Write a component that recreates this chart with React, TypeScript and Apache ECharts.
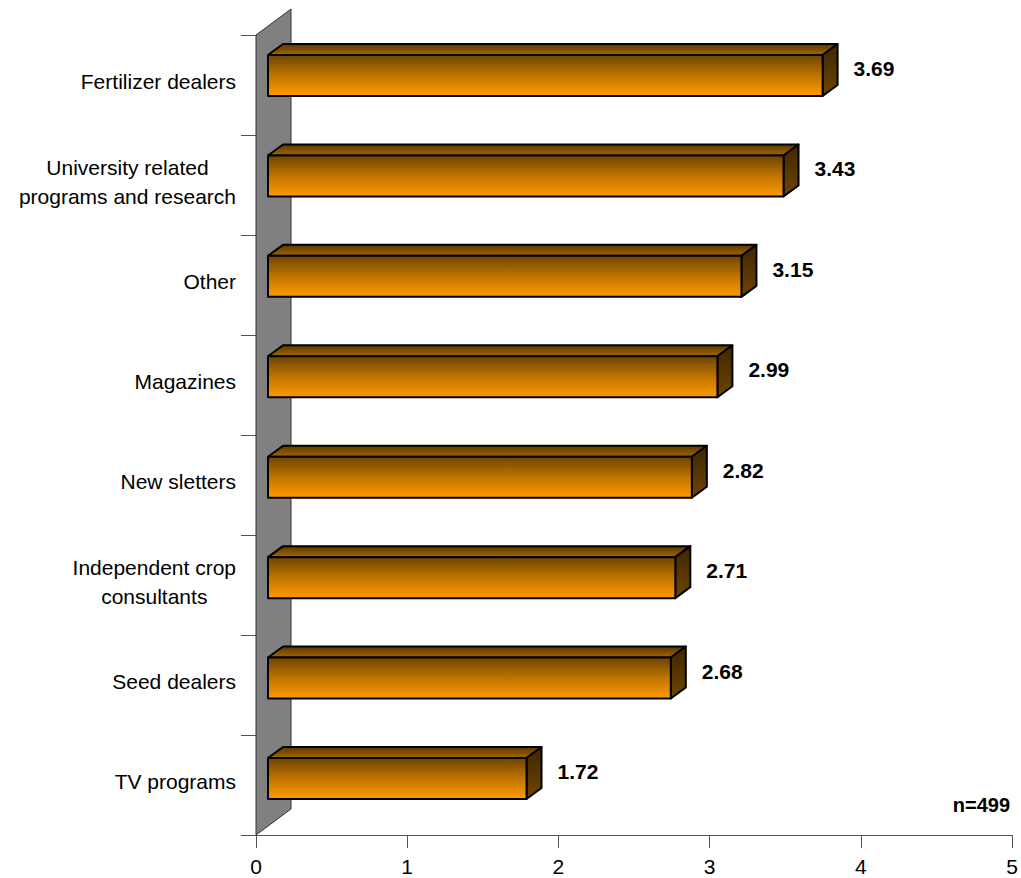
import React, { useEffect, useRef } from "react";
import * as echarts from "echarts";

const categories: string[] = [
  "Fertilizer dealers",
  "University related\nprograms and research",
  "Other",
  "Magazines",
  "New sletters",
  "Independent crop\nconsultants",
  "Seed dealers",
  "TV programs",
];
const values: number[] = [3.69, 3.43, 3.15, 2.99, 2.82, 2.71, 2.68, 1.72];
const xTicks: number[] = [0, 1, 2, 3, 4, 5];
const noteText = "n=499";

const FONT = "Arial, 'Liberation Sans', Helvetica, sans-serif";

export default function App() {
  const ref = useRef<HTMLDivElement>(null);

  useEffect(() => {
    if (!ref.current) return;
    const chart = echarts.init(ref.current, undefined, { renderer: "svg" });

    const DX = 15;
    const DY = -11;
    const BAR_H = 41;

    const frontGrad = new echarts.graphic.LinearGradient(0, 0, 0, 1, [
      { offset: 0, color: "#6e4500" },
      { offset: 0.55, color: "#c67800" },
      { offset: 1, color: "#ff9a00" },
    ]);
    const topGrad = new echarts.graphic.LinearGradient(0, 0, 0, 1, [
      { offset: 0, color: "#5a3800" },
      { offset: 1, color: "#a56600" },
    ]);
    const sideGrad = new echarts.graphic.LinearGradient(0, 0, 0, 1, [
      { offset: 0, color: "#3e2700" },
      { offset: 1, color: "#6e4500" },
    ]);

    const option: any = {
      animation: false,
      backgroundColor: "#ffffff",
      grid: [
        { left: 256, right: 9, top: 35, bottom: 43, containLabel: false },
        { left: 268, right: 1.5, top: 25.3, bottom: 49.3, containLabel: false },
      ],
      xAxis: [
        {
          type: "value",
          gridIndex: 0,
          min: xTicks[0],
          max: xTicks[xTicks.length - 1],
          interval: 1,
          splitLine: { show: false },
          axisLine: { show: true, lineStyle: { color: "#555", width: 1 } },
          axisTick: { show: true, length: 13, lineStyle: { color: "#555" } },
          axisLabel: {
            fontSize: 21,
            color: "#000",
            fontFamily: FONT,
            margin: 21,
          },
        },
        {
          type: "value",
          gridIndex: 1,
          min: 0,
          max: 5,
          show: false,
        },
      ],
      yAxis: [
        {
          type: "category",
          gridIndex: 0,
          data: categories,
          inverse: true,
          axisLine: { show: true, lineStyle: { color: "#555", width: 1 } },
          axisTick: { show: true, length: 15, lineStyle: { color: "#555" } },
          splitLine: { show: false },
          axisLabel: {
            margin: 20,
            fontSize: 21,
            color: "#000",
            fontFamily: FONT,
            padding: [0, 0, 7, 0],
            formatter: (val: string) =>
              val
                .split("\n")
                .map((l) => "{c|" + l + "}")
                .join("\n"),
            rich: {
              c: {
                align: "center",
                fontSize: 21,
                lineHeight: 29,
                fontFamily: FONT,
                color: "#000",
              },
            },
          },
        },
        {
          type: "category",
          gridIndex: 1,
          data: categories,
          inverse: true,
          show: false,
        },
      ],
      series: [
        {
          type: "custom",
          xAxisIndex: 0,
          yAxisIndex: 0,
          z: 1,
          silent: true,
          data: [[0, 0]],
          renderItem: (params: any, api: any) => {
            const cs = params.coordSys;
            const x = cs.x;
            const y = cs.y;
            const h = cs.height;
            return {
              type: "polygon",
              shape: {
                points: [
                  [x, y],
                  [x + 35, y - 26],
                  [x + 35, y + h - 26],
                  [x, y + h],
                ],
              },
              style: { fill: "#808080", stroke: "#333", lineWidth: 1 },
            };
          },
        },
        {
          type: "custom",
          xAxisIndex: 1,
          yAxisIndex: 1,
          z: 3,
          silent: true,
          data: values.map((v, i) => [v, i]),
          renderItem: (params: any, api: any) => {
            const v = api.value(0);
            const i = api.value(1);
            const p0 = api.coord([0, i]);
            const p1 = api.coord([v, i]);
            const x0 = p0[0];
            const x1 = p1[0];
            const yc = p0[1];
            const yt = yc - BAR_H / 2;
            const yb = yc + BAR_H / 2;
            const stroke = { stroke: "#000", lineWidth: 2, lineJoin: "round" };
            return {
              type: "group",
              children: [
                {
                  type: "polygon",
                  shape: {
                    points: [
                      [x0, yt],
                      [x0 + DX, yt + DY],
                      [x1 + DX, yt + DY],
                      [x1, yt],
                    ],
                  },
                  style: { fill: topGrad, ...stroke },
                },
                {
                  type: "polygon",
                  shape: {
                    points: [
                      [x1, yt],
                      [x1 + DX, yt + DY],
                      [x1 + DX, yb + DY],
                      [x1, yb],
                    ],
                  },
                  style: { fill: sideGrad, ...stroke },
                },
                {
                  type: "rect",
                  shape: { x: x0, y: yt, width: x1 - x0, height: BAR_H },
                  style: { fill: frontGrad, ...stroke },
                },
                {
                  type: "text",
                  style: {
                    text: v.toFixed(2),
                    x: x1 + DX + 16,
                    y: yc - 7,
                    align: "left",
                    verticalAlign: "middle",
                    fontSize: 21,
                    fontWeight: "bold",
                    fontFamily: FONT,
                    fill: "#000",
                  },
                },
              ],
            };
          },
        },
      ],
      graphic: [
        {
          type: "text",
          right: 11,
          top: 795,
          style: {
            text: noteText,
            fontSize: 20,
            fontWeight: "bold",
            fontFamily: FONT,
            fill: "#000",
          },
        },
      ],
    };

    chart.setOption(option);
    return () => {
      chart.dispose();
    };
  }, []);

  return (
    <div
      ref={ref}
      style={{ width: 1021, height: 878, position: "absolute", left: 0, top: 0 }}
    />
  );
}
